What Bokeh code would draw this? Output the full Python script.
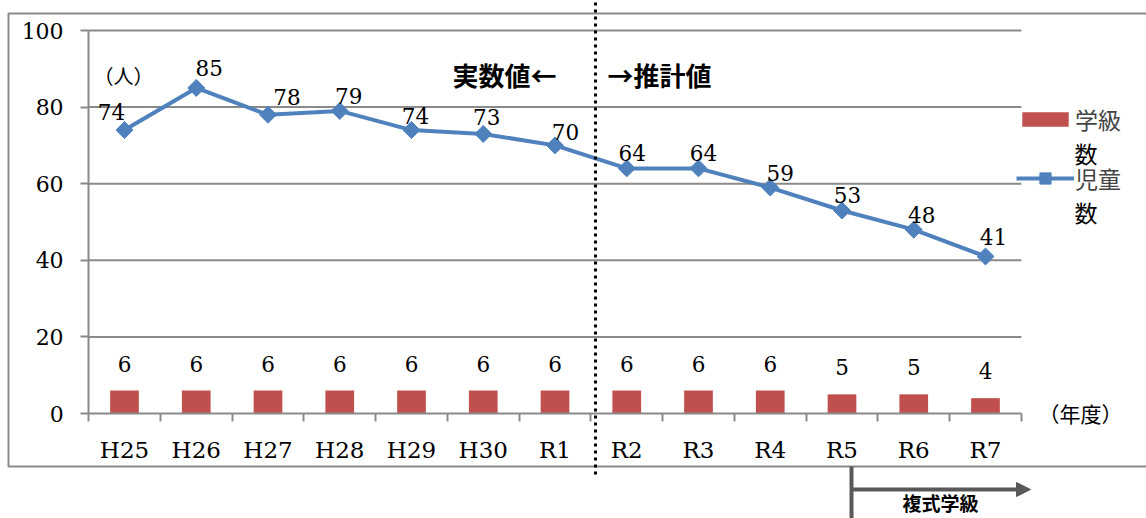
import math
from bokeh.plotting import figure
from bokeh.models import (Range1d, LinearAxis, FixedTicker, ColumnDataSource,
                          Legend, LegendItem, Arrow, NormalHead)
from bokeh.core.properties import value
from bokeh.embed import file_html
from bokeh.resources import INLINE

# ---- data ----
years = ["H25", "H26", "H27", "H28", "H29", "H30", "R1",
         "R2", "R3", "R4", "R5", "R6", "R7"]
children = [74, 85, 78, 79, 74, 73, 70, 64, 64, 59, 53, 48, 41]
classes = [6, 6, 6, 6, 6, 6, 6, 6, 6, 6, 5, 5, 4]
y_ticks = [0, 20, 40, 60, 80, 100]
label_dx = [-13, 13, 19, 9, 4, 3.5, 10.5, 5.5, 5, 10, 5.5, 8, 8]
label_dy = [-18.5, -20, -18, -15, -14, -17, -13, -15, -15, -15, -16, -15, -19.5]

# ---- layout geometry (pixels) ----
W, H = 1146, 518
X0, DX = 124.0, 71.75     # first category centre, category pitch
Y0, DY = 413.0, 3.83      # pixel of value 0, pixels per unit


def px2x(px):
    return (px - X0) / DX


def py2y(py):
    return (Y0 - py) / DY


n = len(years)
idx = list(range(n))

p = figure(width=W, height=H, x_range=Range1d(px2x(0), px2x(W)),
           y_range=Range1d(py2y(H), py2y(0)),
           output_backend="svg", toolbar_location=None,
           x_axis_type=None, y_axis_type=None, min_border=0)
p.outline_line_color = None
p.background_fill_color = "white"
p.border_fill_color = "white"

GREY = "#8a8a8a"
SERIF = "DejaVu Serif"
JP = "Noto Sans CJK JP"

# outer chart border
p.quad(left=px2x(8), right=px2x(W + 10), top=py2y(13), bottom=py2y(466),
       fill_color=None, line_color=GREY, line_width=2)

# horizontal gridlines
grid_vals = [t for t in y_ticks if t > 0]
p.segment(x0=[-0.5] * len(grid_vals), x1=[n - 0.5] * len(grid_vals),
          y0=grid_vals, y1=grid_vals, line_color=GREY, line_width=2)

# y axis
yaxis = LinearAxis(fixed_location=-0.5, bounds=(0, 100),
                   ticker=FixedTicker(ticks=y_ticks, minor_ticks=[]))
yaxis.axis_line_color = GREY
yaxis.axis_line_width = 2
yaxis.major_tick_line_color = GREY
yaxis.major_tick_line_width = 2
yaxis.major_tick_out = 8
yaxis.major_tick_in = 0
yaxis.minor_tick_out = 0
yaxis.minor_tick_in = 0
yaxis.major_label_standoff = 17
yaxis.major_label_text_font = SERIF
yaxis.major_label_text_font_size = "22px"
yaxis.major_label_text_color = "black"
p.add_layout(yaxis, "left")

# x axis
xaxis = LinearAxis(fixed_location=0, bounds=(-0.5, n - 0.5),
                   ticker=FixedTicker(ticks=idx,
                                      minor_ticks=[i - 0.5 for i in range(n + 1)]))
xaxis.major_label_overrides = {i: y for i, y in zip(idx, years)}
xaxis.axis_line_color = GREY
xaxis.axis_line_width = 2
xaxis.major_tick_out = 0
xaxis.major_tick_in = 0
xaxis.minor_tick_out = 8
xaxis.minor_tick_in = 0
xaxis.minor_tick_line_color = GREY
xaxis.minor_tick_line_width = 2
xaxis.major_label_standoff = 15
xaxis.major_label_text_font = SERIF
xaxis.major_label_text_font_size = "23px"
xaxis.major_label_text_color = "black"
p.add_layout(xaxis, "below")

src = ColumnDataSource(dict(x=idx, children=children, classes=classes,
                            ctext=[str(v) for v in children],
                            btext=[str(v) for v in classes],
                            dx=label_dx, dy=label_dy))

# bars
bars = p.vbar(x="x", top="classes", width=0.4, source=src,
              fill_color="#C0504D", line_color=None)
p.text(x="x", y="classes", text="btext", source=src, y_offset=-27,
       text_align="center", text_baseline="middle",
       text_font=value(SERIF), text_font_size="21.5px", text_color="black")

# line
ln = p.line(x="x", y="children", source=src, line_color="#4F81BD", line_width=4)
mk = p.scatter(x="x", y="children", source=src, marker="square", angle=math.pi / 4,
               size=12, fill_color="#4F81BD", line_color="#4F81BD")
p.text(x="x", y="children", text="ctext", source=src, x_offset="dx", y_offset="dy",
       text_align="center", text_baseline="middle",
       text_font=value(SERIF), text_font_size="21.5px", text_color="black")

# divider between actual and estimated values
div_x = px2x(595)
p.segment(x0=[div_x], x1=[div_x], y0=[py2y(-5)], y1=[py2y(478)],
          line_color="black", line_width=3, line_dash="3 4")
p.text(x=[div_x], y=[py2y(74)], text=["実数値←"], x_offset=-39,
       text_align="right", text_baseline="middle", text_font=value(JP),
       text_font_style="bold", text_font_size="26px", text_color="black")
p.text(x=[div_x], y=[py2y(74)], text=["→推計値"], x_offset=12,
       text_align="left", text_baseline="middle", text_font=value(JP),
       text_font_style="bold", text_font_size="26px", text_color="black")

# axis unit labels
p.text(x=[px2x(93)], y=[py2y(75)], text=["（人）"], text_align="left",
       text_baseline="middle", text_font=value(JP), text_font_size="20px",
       text_color="black")
p.text(x=[px2x(1038)], y=[py2y(412)], text=["（年度）"], text_align="left",
       text_baseline="middle", text_font=value(JP), text_font_size="21px",
       text_color="black")

# 複式学級 arrow
ax = px2x(851)
ay = py2y(489)
p.segment(x0=[ax], x1=[ax], y0=[py2y(466)], y1=[py2y(530)],
          line_color="#595959", line_width=4)
p.add_layout(Arrow(x_start=ax, y_start=ay, x_end=px2x(1030), y_end=ay,
                   line_color="#595959", line_width=4,
                   end=NormalHead(size=14, fill_color="#595959", line_color="#595959")))
p.text(x=[px2x(940)], y=[py2y(502)], text=["複式学級"], text_align="center",
       text_baseline="middle", text_font=value(JP), text_font_style="bold",
       text_font_size="19px", text_color="black")

# legends (label wraps onto a second line as in the original)
common = dict(padding=0, margin=0, spacing=0, glyph_width=58, label_standoff=1,
              label_height=36, label_text_font=JP, label_text_font_size="23px",
              border_line_color=None, background_fill_alpha=0)
leg1 = Legend(items=[LegendItem(label="学級", renderers=[bars])],
              location=(1016, 381), glyph_height=18, **common)
leg2 = Legend(items=[LegendItem(label="児童", renderers=[ln, mk])],
              location=(1016, 322), glyph_height=28, **common)
p.add_layout(leg1)
p.add_layout(leg2)
p.text(x=[px2x(1074)] * 2, y=[py2y(152), py2y(211)], text=["数", "数"],
       text_align="left", text_baseline="middle", text_font=value(JP),
       text_font_size="23px", text_color="black")

open("out.html", "w").write(file_html(p, INLINE))
